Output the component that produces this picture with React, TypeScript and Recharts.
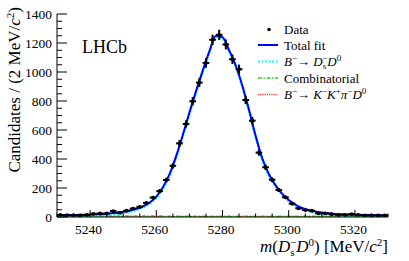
import React from 'react';
import {
  ComposedChart,
  Line,
  Scatter,
  ErrorBar,
  XAxis,
  YAxis,
  Legend,
  Label,
  Customized,
} from 'recharts';

// B- mass distribution, 2 MeV bins (bin centres)
const binCentres = [
  5231, 5233, 5235, 5237, 5239, 5241, 5243, 5245, 5247, 5249,
  5251, 5253, 5255, 5257, 5259, 5261, 5263, 5265, 5267, 5269,
  5271, 5273, 5275, 5277, 5279, 5281, 5283, 5285, 5287, 5289,
  5291, 5293, 5295, 5297, 5299, 5301, 5303, 5305, 5307, 5309,
  5311, 5313, 5315, 5317, 5319, 5321, 5323, 5325, 5327, 5329,
];
const counts = [
  14, 12, 12, 11, 14, 22, 24, 24, 41, 30,
  43, 58, 70, 97, 134, 178, 255, 353, 508, 642,
  798, 927, 1062, 1222, 1256, 1190, 1088, 1019, 807, 664,
  444, 343, 257, 186, 136, 92, 60, 48, 43, 25,
  25, 19, 15, 15, 20, 15, 11, 11, 11, 11,
];

// fit curves
const fitMass = [
  5230, 5232, 5234, 5236, 5238, 5240, 5242, 5244, 5246, 5248,
  5250, 5252, 5254, 5256, 5258, 5260, 5262, 5264, 5266, 5268,
  5270, 5272, 5274, 5276, 5278, 5280, 5282, 5284, 5286, 5288,
  5290, 5292, 5294, 5296, 5298, 5300, 5302, 5304, 5306, 5308,
  5310, 5312, 5314, 5316, 5318, 5320, 5322, 5324, 5326, 5328, 5330,
];
const totalFit = [
  13, 13, 13.5, 14.5, 15.5, 17, 19, 21.5, 25, 29.5,
  36, 45, 57, 74, 100, 140, 205, 295, 420, 565,
  720, 868, 1008, 1140, 1250, 1240, 1150, 1045, 905, 740,
  560, 405, 297, 220, 161, 117, 85, 63, 49, 38,
  31, 25.5, 21.5, 19, 17, 15.5, 14.5, 13.5, 13, 12.5, 12,
];
const signalFit = [
  4, 4.2, 4.8, 5.8, 6.8, 8.4, 10.5, 13, 16.6, 21.2,
  27.8, 36.8, 49, 66, 92, 132, 197, 287, 412, 557,
  712, 860, 1000, 1132, 1242, 1232, 1142, 1037, 897, 732,
  552, 397, 289, 212, 153, 109, 77.5, 55.5, 41.5, 30.5,
  23.5, 18, 14.2, 11.8, 10, 8.6, 7.6, 6.8, 6.3, 5.9, 5.5,
];
const bkgMass = [5230, 5250, 5270, 5290, 5310, 5330];
const combinatorial = [7, 6.4, 5.8, 5.2, 4.7, 4.2];
const kkpiD0 = [2.2, 2.2, 2.4, 2.4, 2.2, 2.1];

const xMajor = [5240, 5260, 5280, 5300, 5320];
const yMajor = [0, 200, 400, 600, 800, 1000, 1200, 1400];

const X_DOMAIN: [number, number] = [5230, 5330];
const Y_DOMAIN: [number, number] = [0, 1400];
const xTicks = Array.from({ length: 21 }, (_, i) => 5230 + i * 5);
const yTicks = Array.from({ length: 29 }, (_, i) => i * 50);

const FONT = "'Liberation Serif'";
const serif = { fontFamily: FONT };

const points = binCentres.map((m, i) => ({ m, n: counts[i], ex: 1, ey: Math.sqrt(counts[i]) }));
const totalData = fitMass.map((m, i) => ({ m, v: totalFit[i] }));
const signalData = fitMass.map((m, i) => ({ m, v: signalFit[i] }));
const combData = bkgMass.map((m, i) => ({ m, v: combinatorial[i] }));
const kkpiData = bkgMass.map((m, i) => ({ m, v: kkpiD0[i] }));

const isMajorX = (v: number) => xMajor.includes(v);
const isMajorY = (v: number) => yMajor.includes(v);

const BottomTick = ({ x, y, payload }: any) => {
  const major = isMajorX(payload.value);
  return (
    <g>
      <line x1={x} x2={x} y1={y} y2={y - (major ? 7 : 3.5)} stroke="#000" />
      {major && (
        <text x={x - 1.5} y={y + 16.5} textAnchor="middle" style={serif} fontSize={13.5} fill="#000">
          {payload.value}
        </text>
      )}
    </g>
  );
};

const TopTick = ({ x, y, payload }: any) => {
  const major = isMajorX(payload.value);
  return <line x1={x} x2={x} y1={y} y2={y + (major ? 7 : 3.5)} stroke="#000" />;
};

const LeftTick = ({ x, y, payload }: any) => {
  const major = isMajorY(payload.value);
  return (
    <g>
      <line x1={x} x2={x + (major ? 10 : 5)} y1={y} y2={y} stroke="#000" />
      {major && (
        <text x={x - 5} y={y + 4.5} textAnchor="end" style={serif} fontSize={13.5} fill="#000">
          {payload.value}
        </text>
      )}
    </g>
  );
};

const RightTick = ({ x, y, payload }: any) => {
  const major = isMajorY(payload.value);
  return <line x1={x} x2={x - (major ? 10 : 5)} y1={y} y2={y} stroke="#000" />;
};

const YTitle = ({ viewBox }: any) => {
  const x = viewBox.x + 20;
  const y = viewBox.y - 7;
  return (
    <text
      x={x}
      y={y}
      transform={`rotate(-90, ${x}, ${y})`}
      textAnchor="end"
      style={serif}
      fontSize={17}
      fill="#000"
    >
      Candidates / (2 MeV/<tspan fontStyle="italic">c</tspan>
      <tspan fontSize={11} dy={-6}>2</tspan>
      <tspan dy={6}>)</tspan>
    </text>
  );
};

const XTitle = ({ viewBox }: any) => (
  <text
    x={viewBox.x + viewBox.width}
    y={viewBox.y + 34.5}
    textAnchor="end"
    style={serif}
    fontSize={17}
    fill="#000"
  >
    <tspan fontStyle="italic">m</tspan>(<tspan fontStyle="italic">D</tspan>
    <tspan fontSize={11} dy={4}>s</tspan>
    <tspan fontSize={11} dx={-4.5} dy={-10}>−</tspan>
    <tspan fontStyle="italic" dy={6}>D</tspan>
    <tspan fontSize={11} dy={-6}>0</tspan>
    <tspan dy={6}>) [MeV/</tspan>
    <tspan fontStyle="italic">c</tspan>
    <tspan fontSize={11} dy={-6}>2</tspan>
    <tspan dy={6}>]</tspan>
  </text>
);

const SUP = { fontSize: 9 };
const rowsY = [14.5, 30, 46.5, 63, 79.5];

const LegendBox = () => (
  <svg width={155} height={92} style={{ overflow: 'visible', display: 'block' }}>
    <g style={serif} fontSize={13} fill="#000">
      <circle cx={19} cy={rowsY[0]} r={1.8} fill="#000" />
      <text x={34} y={rowsY[0] + 4.5}>Data</text>

      <line x1={8} x2={28} y1={rowsY[1]} y2={rowsY[1]} stroke="#0000ff" strokeWidth={2} />
      <text x={34} y={rowsY[1] + 4.5}>Total fit</text>

      <line x1={8} x2={28} y1={rowsY[2]} y2={rowsY[2]} stroke="#00ffff" strokeWidth={2} strokeDasharray="2 1.5" />
      <text x={34} y={rowsY[2] + 4.5}>
        <tspan fontStyle="italic">B</tspan>
        <tspan {...SUP} dy={-5}>−</tspan>
        <tspan dy={5}>→ </tspan>
        <tspan fontStyle="italic">D</tspan>
        <tspan {...SUP} dy={3}>s</tspan>
        <tspan {...SUP} dx={-4} dy={-8}>−</tspan>
        <tspan fontStyle="italic" dy={5}>D</tspan>
        <tspan {...SUP} dy={-5}>0</tspan>
      </text>

      <line x1={8} x2={28} y1={rowsY[3]} y2={rowsY[3]} stroke="#33cc33" strokeWidth={1.5} strokeDasharray="4 1.5 1.5 1.5" />
      <text x={34} y={rowsY[3] + 4.5}>Combinatorial</text>

      <line x1={8} x2={28} y1={rowsY[4]} y2={rowsY[4]} stroke="#ff3333" strokeWidth={1.5} strokeDasharray="1.2 1" />
      <text x={34} y={rowsY[4] + 4.5}>
        <tspan fontStyle="italic">B</tspan>
        <tspan {...SUP} dy={-5}>−</tspan>
        <tspan dy={5}>→ </tspan>
        <tspan fontStyle="italic">K</tspan>
        <tspan {...SUP} dy={-5}>−</tspan>
        <tspan fontStyle="italic" dy={5}>K</tspan>
        <tspan {...SUP} dy={-5}>+</tspan>
        <tspan fontStyle="italic" dy={5}>π</tspan>
        <tspan {...SUP} dy={-5}>−</tspan>
        <tspan fontStyle="italic" dy={5}>D</tspan>
        <tspan {...SUP} dy={-5}>0</tspan>
      </text>
    </g>
  </svg>
);

const LhcbLabel = () => (
  <text x={82} y={53} style={serif} fontSize={18} fill="#000">
    LHCb
  </text>
);

const DataPoint = ({ cx, cy }: any) => <circle cx={cx} cy={cy} r={1.9} fill="#000" />;

export default function App() {
  return (
    <div style={{ position: 'absolute', left: 0, top: 0, background: '#fff', fontFamily: FONT }}>
      <ComposedChart width={409} height={261} margin={{ top: 14, right: 21, bottom: 0, left: 0 }}>
        <XAxis
          dataKey="m"
          type="number"
          domain={X_DOMAIN}
          allowDataOverflow
          ticks={xTicks}
          interval={0}
          tickSize={0}
          tickMargin={0}
          tickLine={false}
          tick={<BottomTick />}
          height={44}
          axisLine={{ stroke: '#000' }}
        >
          <Label content={<XTitle />} />
        </XAxis>
        <XAxis
          xAxisId="top"
          orientation="top"
          dataKey="m"
          type="number"
          domain={X_DOMAIN}
          allowDataOverflow
          ticks={xTicks}
          interval={0}
          tickSize={0}
          tickMargin={0}
          tickLine={false}
          tick={<TopTick />}
          height={0}
          axisLine={{ stroke: '#000' }}
        />
        <YAxis
          type="number"
          domain={Y_DOMAIN}
          allowDataOverflow
          ticks={yTicks}
          interval={0}
          tickSize={0}
          tickMargin={0}
          tickLine={false}
          tick={<LeftTick />}
          width={57}
          axisLine={{ stroke: '#000' }}
        >
          <Label content={<YTitle />} />
        </YAxis>
        <YAxis
          yAxisId="right"
          orientation="right"
          type="number"
          domain={Y_DOMAIN}
          allowDataOverflow
          ticks={yTicks}
          interval={0}
          tickSize={0}
          tickMargin={0}
          tickLine={false}
          tick={<RightTick />}
          width={0}
          axisLine={{ stroke: '#000' }}
        />

        <Line data={kkpiData} dataKey="v" type="monotone" stroke="#ff3333" strokeWidth={1.5}
          strokeDasharray="1.2 1" dot={false} activeDot={false} isAnimationActive={false} />
        <Line data={combData} dataKey="v" type="monotone" stroke="#33cc33" strokeWidth={1.5}
          strokeDasharray="4 1.5 1.5 1.5" dot={false} activeDot={false} isAnimationActive={false} />
        <Line data={signalData} dataKey="v" type="monotone" stroke="#00ffff" strokeWidth={2.5}
          strokeDasharray="2 1.5" dot={false} activeDot={false} isAnimationActive={false} />
        <Line data={totalData} dataKey="v" type="monotone" stroke="#0000ff" strokeWidth={2}
          dot={false} activeDot={false} isAnimationActive={false} />

        <Scatter data={points} dataKey="n" shape={<DataPoint />} isAnimationActive={false}>
          <ErrorBar dataKey="ey" direction="y" width={0} stroke="#000" strokeWidth={2} isAnimationActive={false} />
          <ErrorBar dataKey="ex" direction="x" width={0} stroke="#000" strokeWidth={2} isAnimationActive={false} />
        </Scatter>

        <Customized component={LhcbLabel} />
        <Legend
          content={<LegendBox />}
          layout="vertical"
          align="center"
          verticalAlign="middle"
          wrapperStyle={{ left: 250, top: 15, width: 155, height: 92 }}
        />
      </ComposedChart>
    </div>
  );
}
